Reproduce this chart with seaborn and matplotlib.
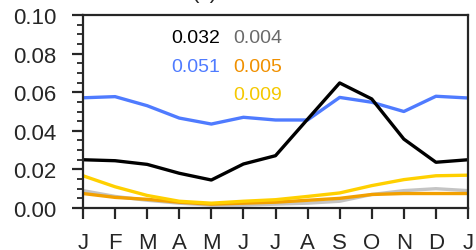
import matplotlib
matplotlib.use('Agg')
import matplotlib.pyplot as plt
import seaborn as sns
import pandas as pd
from matplotlib.ticker import MultipleLocator, FormatStrFormatter

months = ['J', 'F', 'M', 'A', 'M', 'J', 'J', 'A', 'S', 'O', 'N', 'D', 'J']

blue_vals = [0.0571, 0.0577, 0.0530, 0.0466, 0.0435, 0.0470, 0.0456, 0.0456,
             0.0573, 0.0548, 0.0500, 0.0579, 0.0570]
black_vals = [0.0250, 0.0245, 0.0226, 0.0180, 0.0145, 0.0228, 0.0271, 0.0460,
              0.0648, 0.0565, 0.0357, 0.0237, 0.0250]
gray_vals = [0.0090, 0.0060, 0.0040, 0.0025, 0.0015, 0.0015, 0.0020, 0.0025,
             0.0035, 0.0070, 0.0090, 0.0100, 0.0090]
orange_vals = [0.0075, 0.0055, 0.0045, 0.0030, 0.0020, 0.0025, 0.0030, 0.0040,
               0.0050, 0.0070, 0.0075, 0.0075, 0.0075]
yellow_vals = [0.0167, 0.0110, 0.0065, 0.0035, 0.0025, 0.0035, 0.0043, 0.0060,
               0.0078, 0.0116, 0.0147, 0.0167, 0.0170]

# annotated means
means = ['0.032', '0.004', '0.051', '0.005', '0.009']

sns.set_style('ticks')
plt.rcParams['font.family'] = ['Liberation Sans', 'DejaVu Sans']

fig = plt.figure(figsize=(4.76, 2.51), dpi=100)
ax = fig.add_axes([83 / 476, 42 / 251, 385 / 476, 193 / 251])

x = list(range(len(months)))
series = [
    (blue_vals, '#4f7bff'),
    (black_vals, 'black'),
    (gray_vals, '#c4c4c4'),
    (orange_vals, '#f2a000'),
    (yellow_vals, '#ffd000'),
]
for vals, col in series:
    df = pd.DataFrame({'m': x, 'v': vals})
    sns.lineplot(data=df, x='m', y='v', color=col, linewidth=2.4, ax=ax)

ax.set_xlim(0, 12)
ax.set_ylim(0, 0.10)
ax.set_xticks(x)
ax.set_xticklabels(months)
ax.yaxis.set_major_locator(MultipleLocator(0.02))
ax.yaxis.set_minor_locator(MultipleLocator(0.005))
ax.yaxis.set_major_formatter(FormatStrFormatter('%.2f'))
ax.set_xlabel('')
ax.set_ylabel('')

for s in ax.spines.values():
    s.set_linewidth(1.6)
ax.tick_params(axis='both', which='major', length=8, width=1.6,
               labelsize=16, direction='out', pad=9)
ax.tick_params(axis='y', which='minor', length=4.5, width=1.3, direction='out')
ax.tick_params(axis='y', which='major', pad=11)

kw = dict(transform=ax.transAxes, fontsize=14, va='baseline')
ax.text(0.356, 0.860, means[0], color='black', ha='right', **kw)
ax.text(0.390, 0.860, means[1], color='#6a6a6a', ha='left', **kw)
ax.text(0.356, 0.710, means[2], color='#4f7bff', ha='right', **kw)
ax.text(0.390, 0.710, means[3], color='#f09000', ha='left', **kw)
ax.text(0.390, 0.565, means[4], color='#f5c800', ha='left', **kw)

fig.text(205 / 476, 1 - 3 / 251, '(c)', fontsize=16, ha='center', va='bottom')

fig.savefig('out.png', dpi=100)
